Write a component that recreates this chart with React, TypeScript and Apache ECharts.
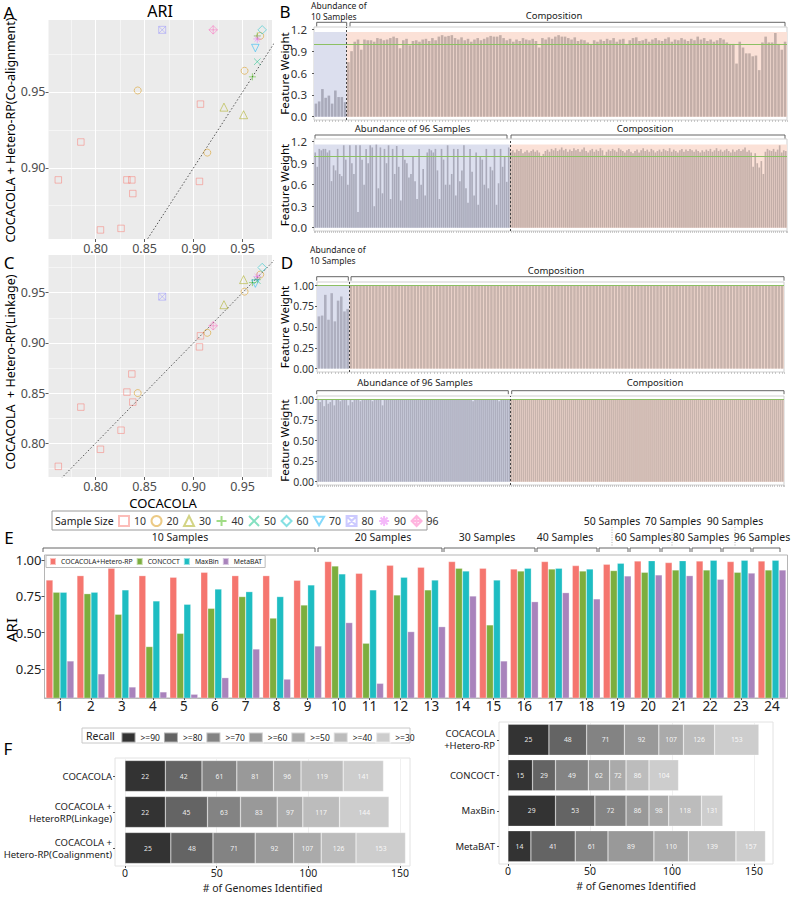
import React, { useEffect, useRef } from "react";
import * as echarts from "echarts";

const FONT = "'Noto Sans', 'DejaVu Sans', sans-serif";

// ---------------- Panels A & C : ARI scatter ----------------
const sampleSizes = ["10", "20", "30", "40", "50", "60", "70", "80", "90", "96"];
const sizeColors = ["#F8766D", "#D89000", "#A3A500", "#39B600", "#00BF7D", "#00BFC4", "#00B0F6", "#9590FF", "#E76BF3", "#FF62BC"];
const cocacolaARI = [
  [0.762, 0.785, 0.805, 0.826, 0.832, 0.837, 0.838, 0.907, 0.906],
  [0.843, 0.914, 0.952, 0.968],
  [0.931, 0.951],
  [0.960, 0.965],
  [0.965],
  [0.970],
  [0.963],
  [0.868],
  [0.965],
  [0.920],
];
const coalignmentARI = [
  [0.892, 0.917, 0.859, 0.860, 0.892, 0.892, 0.883, 0.942, 0.891],
  [0.951, 0.910, 0.964, 0.987],
  [0.940, 0.935],
  [0.960, 0.987],
  [0.970],
  [0.991],
  [0.979],
  [0.991],
  [0.985],
  [0.991],
];
const linkageARI = [
  [0.777, 0.836, 0.794, 0.813, 0.851, 0.869, 0.841, 0.907, 0.896],
  [0.850, 0.910, 0.951, 0.968],
  [0.938, 0.963],
  [0.960, 0.963],
  [0.962],
  [0.975],
  [0.959],
  [0.946],
  [0.966],
  [0.917],
];
const identityLine = [[0.7, 0.7], [1.0, 1.0]];

// ---------------- Panels B & D : feature weights ----------------
const bTopAbundance = [0.18, 0.21, 0.38, 0.26, 0.29, 0.18, 0.36, 0.27, 0.27, 0.20];
const bTopComposition = [
  0.75, 0.90, 1.03, 1.06, 0.92, 1.06, 1.05, 1.05,
  1.03, 1.08, 1.07, 1.05, 1.06, 1.08, 1.10, 1.08,
  0.94, 1.05, 1.07, 0.98, 1.04, 1.05, 1.03, 1.06,
  1.07, 1.04, 1.08, 1.05, 1.10, 1.12, 1.10, 1.11,
  1.12, 1.08, 1.06, 1.09, 1.05, 1.07, 1.03, 1.06,
  1.08, 1.05, 1.07, 1.09, 1.11, 1.10, 1.10, 1.12,
  1.08, 1.05, 1.07, 1.03, 1.06, 1.04, 1.08, 1.06,
  1.05, 1.07, 1.04, 0.95, 1.08, 1.06, 1.09, 1.07,
  1.10, 1.12, 1.10, 1.10, 1.08, 1.06, 1.09, 1.04,
  1.06, 1.05, 1.02, 1.00, 1.05, 1.03, 1.06, 1.04,
  1.07, 1.05, 1.08, 1.03, 1.06, 1.07, 1.00, 1.05,
  1.08, 1.09, 1.04, 1.05, 1.07, 1.03, 1.06, 1.08,
  1.05, 1.04, 1.07, 1.09, 1.03, 1.06, 1.05, 1.08,
  1.06, 1.04, 1.07, 1.05, 1.10, 1.06, 1.08, 1.04,
  1.06, 1.03, 1.05, 1.08, 1.06, 1.02, 1.00, 1.00,
  0.73, 1.03, 0.95, 0.87, 0.87, 0.83, 0.84, 0.64,
  1.02, 1.10, 1.02, 1.02, 1.15, 1.00, 0.92, 1.03,
];
const bBottomAbundance = [
  1.05, 0.85, 1.10, 1.08, 1.10, 1.10, 1.05, 1.08,
  0.65, 0.87, 0.80, 1.10, 0.75, 0.72, 1.15, 0.95,
  0.60, 1.15, 0.90, 0.75, 1.15, 0.22, 1.15, 0.95,
  0.60, 1.10, 0.90, 1.15, 1.12, 0.30, 1.16, 0.55,
  1.12, 0.48, 1.10, 0.90, 1.15, 0.40, 1.10, 0.75,
  1.14, 0.85, 0.38, 1.10, 0.95, 0.90, 0.70, 0.75,
  1.00, 0.65, 0.40, 1.10, 0.60, 0.82, 0.45, 1.05,
  1.10, 1.08, 1.05, 1.10, 0.80, 0.40, 1.10, 0.95,
  0.60, 1.15, 0.60, 0.75, 1.10, 0.45, 1.10, 0.65,
  0.80, 1.15, 0.55, 0.35, 1.10, 0.78, 0.45, 1.05,
  0.32, 1.00, 0.95, 0.60, 1.10, 0.55, 0.85, 0.80,
  1.10, 0.32, 0.62, 1.10, 0.85, 1.00, 0.64, 1.12,
];
const bBottomComposition = [
  1.06, 1.08, 1.05, 1.09, 1.07, 1.10, 1.04, 1.06,
  1.08, 1.05, 1.07, 1.09, 1.06, 1.08, 1.05, 1.00,
  1.03, 1.07, 1.09, 1.06, 1.10, 1.08, 1.11, 1.07,
  1.09, 1.12, 1.08, 1.10, 1.06, 1.09, 1.07, 1.11,
  1.08, 1.10, 1.06, 1.09, 1.12, 1.07, 1.05, 1.08,
  1.10, 1.06, 1.09, 1.07, 1.11, 1.08, 1.01, 1.06,
  1.09, 1.07, 1.10, 1.08, 1.06, 1.11, 1.09, 1.07,
  1.05, 1.08, 1.10, 1.06, 1.04, 1.07, 1.09, 1.05,
  1.08, 1.11, 1.07, 1.09, 1.06, 1.10, 1.08, 1.05,
  1.07, 1.09, 1.06, 1.10, 1.08, 1.07, 1.11, 1.06,
  1.09, 1.07, 1.05, 1.08, 1.10, 1.06, 1.09, 1.07,
  1.10, 1.08, 1.06, 1.09, 1.07, 1.05, 1.08, 1.06,
  1.09, 1.07, 1.10, 1.06, 1.08, 1.11, 1.07, 1.09,
  1.06, 1.08, 1.10, 1.07, 1.05, 1.09, 1.06, 1.08,
  1.10, 1.07, 1.09, 1.12, 1.06, 1.08, 1.05, 0.85,
  1.04, 0.90, 0.84, 0.93, 0.75, 1.06, 1.10, 1.08,
  1.07, 1.10, 1.06, 1.09, 1.15, 1.05, 1.08, 1.07,
];
const dTopAbundance = [0.63, 0.64, 0.89, 0.59, 0.91, 0.57, 0.82, 0.87, 0.69, 0.72];
const dTopComposition = [
  1, 1, 1, 1, 1, 1, 1, 1, 1, 1, 1, 1, 1, 1, 1, 1, 1, 1, 1, 1, 1, 1, 1, 1, 1, 1, 1, 1, 1, 1, 1, 1, 1, 1,
  1, 1, 1, 1, 1, 1, 1, 1, 1, 1, 1, 1, 1, 1, 1, 1, 1, 1, 1, 1, 1, 1, 1, 1, 1, 1, 1, 1, 1, 1, 1, 1, 1, 1,
  1, 1, 1, 1, 1, 1, 1, 1, 1, 1, 1, 1, 1, 1, 1, 1, 1, 1, 1, 1, 1, 1, 1, 1, 1, 1, 1, 1, 1, 1, 1, 1, 1, 1,
  1, 1, 1, 1, 1, 1, 1, 1, 1, 1, 1, 1, 1, 1, 1, 1, 1, 1, 1, 1, 1, 1, 1, 1, 1, 1, 1, 1, 1, 1, 1, 1, 1, 1,
];
const dBottomAbundance = [
  1.00, 0.97, 1.00, 0.92, 1.00, 0.95, 0.97, 1.00,
  0.93, 1.00, 1.00, 0.98, 1.00, 1.00, 1.00, 0.93,
  1.00, 0.97, 1.00, 1.00, 1.00, 0.98, 1.00, 1.00,
  1.00, 1.00, 1.00, 0.98, 1.00, 1.00, 1.00, 1.00,
  0.93, 1.00, 1.00, 1.00, 1.00, 1.00, 1.00, 1.00,
  1.00, 1.00, 1.00, 1.00, 1.00, 1.00, 1.00, 1.00,
  1.00, 1.00, 1.00, 1.00, 1.00, 1.00, 1.00, 1.00,
  1.00, 1.00, 1.00, 1.00, 1.00, 1.00, 1.00, 1.00,
  1.00, 1.00, 1.00, 1.00, 1.00, 1.00, 1.00, 1.00,
  1.00, 1.00, 1.00, 1.00, 1.00, 0.98, 1.00, 1.00,
  1.00, 1.00, 1.00, 1.00, 1.00, 1.00, 1.00, 1.00,
  1.00, 1.00, 0.98, 1.00, 1.00, 1.00, 1.00, 1.00,
];
const dBottomComposition = [
  1, 1, 1, 1, 1, 1, 1, 1, 1, 1, 1, 1, 1, 1, 1, 1, 1, 1, 1, 1, 1, 1, 1, 1, 1, 1, 1, 1, 1, 1, 1, 1, 1, 1,
  1, 1, 1, 1, 1, 1, 1, 1, 1, 1, 1, 1, 1, 1, 1, 1, 1, 1, 1, 1, 1, 1, 1, 1, 1, 1, 1, 1, 1, 1, 1, 1, 1, 1,
  1, 1, 1, 1, 1, 1, 1, 1, 1, 1, 1, 1, 1, 1, 1, 1, 1, 1, 1, 1, 1, 1, 1, 1, 1, 1, 1, 1, 1, 1, 1, 1, 1, 1,
  1, 1, 1, 1, 1, 1, 1, 1, 1, 1, 1, 1, 1, 1, 1, 1, 1, 1, 1, 1, 1, 1, 1, 1, 1, 1, 1, 1, 1, 1, 1, 1, 1, 1,
];

// ---------------- Panel E : ARI by dataset ----------------
const datasetLabels = ["1", "2", "3", "4", "5", "6", "7", "8", "9", "10", "11", "12", "13", "14", "15", "16", "17", "18", "19", "20", "21", "22", "23", "24"];
const methodNames = ["COCACOLA+Hetero-RP", "CONCOCT", "MaxBin", "MetaBAT"];
const methodColors = ["#F5766F", "#7CAE3E", "#1EBDC2", "#A983BC"];
const ariHeteroRP = [0.862, 0.892, 0.943, 0.892, 0.881, 0.915, 0.892, 0.892, 0.860, 0.989, 0.908, 0.963, 0.950, 0.989, 0.943, 0.938, 0.989, 0.961, 0.970, 0.993, 0.982, 0.993, 0.989, 0.993];
const ariConcoct = [0.778, 0.768, 0.626, 0.404, 0.495, 0.667, 0.748, 0.600, 0.690, 0.959, 0.427, 0.759, 0.794, 0.943, 0.553, 0.924, 0.938, 0.924, 0.927, 0.915, 0.931, 0.931, 0.915, 0.931];
const ariMaxbin = [0.778, 0.778, 0.794, 0.718, 0.695, 0.800, 0.782, 0.748, 0.828, 0.904, 0.794, 0.881, 0.862, 0.924, 0.862, 0.943, 0.943, 0.938, 0.977, 0.995, 0.995, 0.998, 0.998, 0.998];
const ariMetabat = [0.305, 0.216, 0.126, 0.092, 0.076, 0.190, 0.388, 0.180, 0.408, 0.569, 0.151, 0.507, 0.541, 0.752, 0.305, 0.713, 0.775, 0.732, 0.890, 0.897, 0.892, 0.867, 0.910, 0.931];
const groupLabels = ["10 Samples", "20 Samples", "30 Samples", "40 Samples", "50 Samples", "60 Samples", "70 Samples", "80 Samples", "90 Samples", "96 Samples"];

// ---------------- Panel F : genomes identified ----------------
const recallLevels = [">=90", ">=80", ">=70", ">=60", ">=50", ">=40", ">=30"];
const recallColors = ["#333333", "#646464", "#838383", "#999999", "#AAAAAA", "#BCBCBC", "#CDCDCD"];
const fLeftMethods = ["COCACOLA", "COCACOLA +\nHeteroRP(Linkage)", "COCACOLA +\nHetero-RP(Coalignment)"];
const fLeftCumulative = [
  [22, 42, 61, 81, 96, 119, 141],
  [22, 45, 63, 83, 97, 117, 144],
  [25, 48, 71, 92, 107, 126, 153],
];
const fRightMethods = ["COCACOLA\n+Hetero-RP", "CONCOCT", "MaxBin", "MetaBAT"];
const fRightCumulative = [
  [25, 48, 71, 92, 107, 126, 153],
  [15, 29, 49, 62, 72, 86, 104],
  [29, 53, 72, 86, 98, 118, 131],
  [14, 41, 61, 89, 110, 139, 157],
];

const SYMBOLS = [
  "rect",
  "circle",
  "triangle",
  "path://M5,0L5,10M0,5L10,5",
  "path://M0,0L10,10M10,0L0,10",
  "diamond",
  "path://M0,0L10,0L5,8.66Z",
  "path://M0,0L10,0L10,10L0,10ZM0,0L10,10M10,0L0,10",
  "path://M5,0L5,10M0,5L10,5M1.5,1.5L8.5,8.5M8.5,1.5L1.5,8.5",
  "path://M5,0L10,5L5,10L0,5ZM5,0L5,10M0,5L10,5",
];
const SYMBOL_SIZES = [6.5, 7, 8, 7, 6.5, 8.5, 7.5, 7, 8, 8.5];

function rgba(hex: string, a: number) {
  const n = parseInt(hex.slice(1), 16);
  return `rgba(${(n >> 16) & 255},${(n >> 8) & 255},${n & 255},${a})`;
}

function buildOption() {
  const grids: any[] = [];
  const xAxes: any[] = [];
  const yAxes: any[] = [];
  const series: any[] = [];
  const graphics: any[] = [];

  const txt = (x: number, y: number, text: string, size: number, opt: any = {}) => ({
    type: "text",
    x,
    y,
    rotation: opt.rotation || 0,
    silent: true,
    z: 10,
    style: {
      text,
      fontSize: size,
      fontFamily: FONT,
      fill: opt.color || "#1a1a1a",
      align: opt.align || "center",
      textAlign: opt.align || "center",
      verticalAlign: "middle",
      textVerticalAlign: "middle",
    },
  });
  const bracket = (x1: number, x2: number, y: number, t: number) => ({
    type: "polyline",
    silent: true,
    z: 10,
    shape: { points: [[x1, y + t], [x1, y], [x2, y], [x2, y + t]] },
    style: { stroke: "#555", lineWidth: 0.9, fill: "none" },
  });

  // ----- scatter panels -----
  const scatterPanel = (top: number, height: number, yMin: number, yMax: number, yVals: number[][]) => {
    const gi = grids.length;
    grids.push({ left: 48.5, top, width: 223.5, height, show: true, backgroundColor: "#EBEBEB", borderWidth: 0, outerBoundsMode: "none" });
    const xi = xAxes.length;
    xAxes.push({
      type: "value", gridIndex: gi, min: 0.752, max: 0.98, minInterval: 0.05, maxInterval: 0.05,
      axisLine: { show: false, onZero: false },
      axisTick: { show: true, length: 3, lineStyle: { color: "#333", width: 0.8 } },
      axisLabel: { fontSize: 12.5, color: "#4D4D4D", margin: 3, showMinLabel: false, showMaxLabel: false, formatter: (v: number) => v.toFixed(2) },
      splitLine: { show: true, showMinLine: false, showMaxLine: false, lineStyle: { color: "#FFFFFF", width: 1.1 } },
    });
    xAxes.push({
      type: "value", gridIndex: gi, position: "top", min: 0.752, max: 0.98, minInterval: 0.025, maxInterval: 0.025,
      axisLine: { show: false, onZero: false }, axisTick: { show: false }, axisLabel: { show: false },
      splitLine: { show: true, showMinLine: false, showMaxLine: false, lineStyle: { color: "#FFFFFF", width: 0.5 } },
    });
    const yi = yAxes.length;
    yAxes.push({
      type: "value", gridIndex: gi, min: yMin, max: yMax, minInterval: 0.05, maxInterval: 0.05,
      axisLine: { show: false, onZero: false },
      axisTick: { show: true, length: 3, lineStyle: { color: "#333", width: 0.8 } },
      axisLabel: { fontSize: 12.5, color: "#4D4D4D", margin: 3, showMinLabel: false, showMaxLabel: false, formatter: (v: number) => v.toFixed(2) },
      splitLine: { show: true, showMinLine: false, showMaxLine: false, lineStyle: { color: "#FFFFFF", width: 1.1 } },
    });
    yAxes.push({
      type: "value", gridIndex: gi, position: "right", min: yMin, max: yMax, minInterval: 0.025, maxInterval: 0.025,
      axisLine: { show: false, onZero: false }, axisTick: { show: false }, axisLabel: { show: false },
      splitLine: { show: true, showMinLine: false, showMaxLine: false, lineStyle: { color: "#FFFFFF", width: 0.5 } },
    });
    series.push({
      type: "line", xAxisIndex: xi, yAxisIndex: yi, data: identityLine, symbol: "none", silent: true, clip: true,
      lineStyle: { color: "#444", width: 0.9, type: [1.5, 2] }, z: 3,
    });
    sampleSizes.forEach((name, k) => {
      series.push({
        type: "scatter", name, xAxisIndex: xi, yAxisIndex: yi,
        data: cocacolaARI[k].map((x, i) => [x, yVals[k][i]]),
        symbol: SYMBOLS[k], symbolSize: SYMBOL_SIZES[k], silent: true, z: 4,
        itemStyle: { color: "rgba(0,0,0,0)", borderColor: rgba(sizeColors[k], 0.6), borderWidth: 1 },
      });
    });
  };
  scatterPanel(20, 219, 0.853, 0.9975, coalignmentARI);
  scatterPanel(255, 222, 0.7664, 0.9875, linkageARI);

  // ----- feature weight panels -----
  const weightPanel = (left: number, top: number, width: number, height: number, yMin: number, yMax: number, step: number, dec: number, labelSize: number, labelMargin: number, abund: number[], comp: number[], bandTop: number, abColor: string, compColor: string) => {
    const gi = grids.length;
    grids.push({ left, top, width, height, show: true, backgroundColor: "#FFFFFF", borderColor: "#CFCFCF", borderWidth: 1, outerBoundsMode: "none" });
    const n = abund.length + comp.length;
    const xi = xAxes.length;
    xAxes.push({
      type: "value", gridIndex: gi, min: 0.4, max: n + 0.6, minInterval: 1, maxInterval: 1,
      axisLine: { show: false, onZero: false }, axisLabel: { show: false }, splitLine: { show: false },
      axisTick: { show: true, length: 2, lineStyle: { color: "#AAAAAA", width: 0.6 } },
    });
    const yi = yAxes.length;
    yAxes.push({
      type: "value", gridIndex: gi, min: yMin, max: yMax, minInterval: step, maxInterval: step,
      axisLine: { show: false, onZero: false }, splitLine: { show: false },
      axisTick: { show: true, length: 2, lineStyle: { color: "#333", width: 0.8 } },
      axisLabel: { fontSize: labelSize, color: "#333", margin: labelMargin, showMinLabel: false, showMaxLabel: false, formatter: (v: number) => v.toFixed(dec) },
    });
    const unit = width / (n + 0.2);
    const data = abund
      .map((v, i) => ({ value: [i + 1, v], itemStyle: { color: abColor } }))
      .concat(comp.map((v, i) => ({ value: [abund.length + i + 1, v], itemStyle: { color: compColor } })));
    const sep = abund.length + 0.5;
    series.push({
      type: "bar", xAxisIndex: xi, yAxisIndex: yi, barWidth: unit * 0.8, data, silent: true,
      markArea: {
        silent: true,
        data: [
          [{ xAxis: 0.4, yAxis: 0, itemStyle: { color: "#DCDFEE" } }, { xAxis: sep, yAxis: bandTop }],
          [{ xAxis: sep, yAxis: 0, itemStyle: { color: "#FBE1D7" } }, { xAxis: n + 0.6, yAxis: bandTop }],
        ],
      },
      markLine: {
        silent: true, symbol: "none", label: { show: false },
        data: [
          { yAxis: 1, lineStyle: { color: "#8CC063", width: 1.1, type: "solid" } },
          { xAxis: sep, lineStyle: { color: "#444", width: 1, type: [2, 2] } },
        ],
      },
    });
  };
  weightPanel(314, 27, 473, 93, -0.045, 1.232, 0.3, 1, 11.5, 7, bTopAbundance, bTopComposition, 1.165, "#A9AABA", "#C3AEA8");
  weightPanel(314, 139, 473, 92, -0.046, 1.238, 0.3, 1, 11.5, 7, bBottomAbundance, bBottomComposition, 1.16, "#A9AABA", "#C3AEA8");
  weightPanel(317, 282, 467, 90, -0.041, 1.045, 0.25, 2, 10.5, 3, dTopAbundance, dTopComposition, 1.0, "#AEAFBF", "#C8B4AD");
  weightPanel(317, 396, 467, 89, -0.040, 1.044, 0.25, 2, 10.5, 3, dBottomAbundance, dBottomComposition, 1.0, "#AEAFBF", "#C8B4AD");

  // ----- panel E -----
  const ge = grids.length;
  grids.push({ left: 44.5, top: 555, width: 743, height: 143, show: true, backgroundColor: "#FFFFFF", borderColor: "#B5B5B5", borderWidth: 1, outerBoundsMode: "none" });
  const exi = xAxes.length;
  xAxes.push({
    type: "category", gridIndex: ge, data: datasetLabels,
    axisLine: { show: true, onZero: false, lineStyle: { color: "#B5B5B5" } },
    axisTick: { show: true, alignWithLabel: true, length: 2, lineStyle: { color: "#555" } },
    axisLabel: { fontSize: 13.5, color: "#222", margin: 1, interval: 0 },
  });
  const eyi = yAxes.length;
  yAxes.push({
    type: "value", gridIndex: ge, min: 0.05, max: 1.034, minInterval: 0.25, maxInterval: 0.25,
    axisLine: { show: false, onZero: false }, splitLine: { show: false },
    axisTick: { show: true, length: 3, lineStyle: { color: "#555" } },
    axisLabel: { fontSize: 13, color: "#222", margin: 3, showMinLabel: false, showMaxLabel: false, formatter: (v: number) => v.toFixed(2) },
  });
  [ariHeteroRP, ariConcoct, ariMaxbin, ariMetabat].forEach((vals, m) => {
    series.push({
      type: "bar", name: methodNames[m], xAxisIndex: exi, yAxisIndex: eyi, data: vals,
      barWidth: 7, barGap: "0%", silent: true,
      itemStyle: { color: methodColors[m], borderColor: "rgba(255,255,255,0.55)", borderWidth: 0.5 },
    });
  });

  // ----- panel F -----
  const fPanel = (left: number, top: number, width: number, height: number, xMax: number, methods: string[], cum: number[][], labelMargin: number, nameGap: number, xMargin: number, xFont: number) => {
    const gi = grids.length;
    grids.push({ left, top, width, height, show: true, backgroundColor: "#FFFFFF", borderColor: "#E2E2E2", borderWidth: 1, outerBoundsMode: "none" });
    const xi = xAxes.length;
    xAxes.push({
      type: "value", gridIndex: gi, min: -5.45, max: xMax, minInterval: 50, maxInterval: 50,
      axisLine: { show: false, onZero: false },
      axisTick: { show: true, length: 2, lineStyle: { color: "#555" } },
      axisLabel: { fontSize: xFont, color: "#222", margin: xMargin, showMinLabel: false, showMaxLabel: false },
      splitLine: { show: true, showMinLine: false, showMaxLine: false, lineStyle: { color: "#F0F0F0", width: 1 } },
      name: "# of Genomes Identified", nameLocation: "middle", nameGap,
      nameTextStyle: { fontSize: 10.5, color: "#222", fontFamily: FONT },
    });
    const yi = yAxes.length;
    yAxes.push({
      type: "category", gridIndex: gi, data: methods, inverse: true,
      axisLine: { show: false, onZero: false },
      axisTick: { show: true, alignWithLabel: true, length: 2, lineStyle: { color: "#555" } },
      axisLabel: { fontSize: 9.5, color: "#222", margin: labelMargin, lineHeight: 12, align: "right" },
      splitLine: { show: false },
    });
    recallLevels.forEach((name, j) => {
      series.push({
        type: "bar", name, stack: "recall" + gi, xAxisIndex: xi, yAxisIndex: yi, barWidth: 31, silent: true,
        data: cum.map((row) => row[j] - (j > 0 ? row[j - 1] : 0)),
        itemStyle: { color: recallColors[j], borderColor: "rgba(255,255,255,0.5)", borderWidth: 0.5 },
        label: {
          show: true, position: "inside", color: "rgba(255,255,255,0.9)", fontSize: 6.8, fontFamily: FONT,
          formatter: (p: any) => String(cum[p.dataIndex][j]),
        },
      });
    });
  };
  fPanel(115, 758, 295, 108, 155.45, fLeftMethods, fLeftCumulative, 3, 16, 1, 10.5);
  fPanel(499, 722, 274, 142, 161.6, fRightMethods, fRightCumulative, 4, 16, 1, 10.5);

  // ----- annotations -----
  graphics.push(txt(9, 12, "A", 17, { color: "#000" }));
  graphics.push(txt(285, 11.5, "B", 17, { color: "#000" }));
  graphics.push(txt(9, 262, "C", 17, { color: "#000" }));
  graphics.push(txt(287, 262, "D", 17, { color: "#000" }));
  graphics.push(txt(9, 537, "E", 17, { color: "#000" }));
  graphics.push(txt(8, 748, "F", 17, { color: "#000" }));
  graphics.push(txt(160, 11, "ARI", 16, { color: "#000" }));
  graphics.push(txt(10, 130, "COCACOLA + Hetero-RP(Co-alignment)", 12.5, { rotation: Math.PI / 2, color: "#000" }));
  graphics.push(txt(10, 372, "COCACOLA  + Hetero-RP(Linkage)", 12.5, { rotation: Math.PI / 2, color: "#000" }));
  graphics.push(txt(163, 503, "COCACOLA", 13, { color: "#000" }));
  [73.5, 185, 327, 440.5].forEach((y) => graphics.push(txt(284.5, y, "Feature Weight", 11.5, { rotation: Math.PI / 2, color: "#000" })));
  // B brackets
  graphics.push(txt(311, 5, "Abundance of", 8.5, { align: "left" }));
  graphics.push(txt(311, 16.3, "10 Samples", 8.5, { align: "left" }));
  graphics.push(bracket(316.7, 346.7, 22.3, 4));
  graphics.push(txt(554, 15.5, "Composition", 9.5));
  graphics.push(bracket(350, 785, 22.3, 4));
  graphics.push(txt(412.5, 128.3, "Abundance of 96 Samples", 9.5));
  graphics.push(bracket(315, 507, 135, 3.5));
  graphics.push(txt(645, 128.3, "Composition", 9.5));
  graphics.push(bracket(511, 785, 135, 3.5));
  // D brackets
  graphics.push(txt(310, 249.5, "Abundance of", 8.5, { align: "left" }));
  graphics.push(txt(310, 260.8, "10 Samples", 8.5, { align: "left" }));
  graphics.push(bracket(316.7, 348.3, 276.7, 4));
  graphics.push(txt(556, 270, "Composition", 9.5));
  graphics.push(bracket(351, 784, 276.7, 4));
  graphics.push(txt(415, 382.7, "Abundance of 96 Samples", 9.5));
  graphics.push(bracket(316.7, 508.3, 390.7, 3.5));
  graphics.push(txt(655, 382.7, "Composition", 9.5));
  graphics.push(bracket(511.7, 784, 390.7, 3.5));
  // Sample size legend frame
  graphics.push({ type: "rect", silent: true, z: 1, shape: { x: 52, y: 511, width: 375, height: 19 }, style: { fill: "#FFFFFF", stroke: "#9A9A9A", lineWidth: 1 } });
  graphics.push(txt(55, 520.5, "Sample Size", 10.5, { align: "left", color: "#222" }));
  // E group brackets
  const eRanges = [[43, 315], [318, 442], [444, 535], [537, 597], [599, 628], [630, 660], [662, 690], [692, 721], [723, 751], [753, 780]];
  const eLabelPos = [[180, 537], [383, 537], [487, 537], [565, 537], [612, 520.5], [643, 537], [673, 520.5], [701, 537], [735, 520.5], [762, 537]];
  eRanges.forEach((r) => graphics.push(bracket(r[0], r[1], 548, 4)));
  groupLabels.forEach((g, i) => graphics.push(txt(eLabelPos[i][0], eLabelPos[i][1], g, 10.5, { color: "#1a1a1a" })));
  [612, 672, 735].forEach((x) =>
    graphics.push({ type: "line", silent: true, z: 9, shape: { x1: x, y1: 527, x2: x, y2: 546 }, style: { stroke: "#999", lineWidth: 0.8, lineDash: [1, 1.5] } })
  );
  graphics.push(txt(11, 630, "ARI", 15, { rotation: Math.PI / 2, color: "#000" }));
  // F legend frame
  graphics.push({ type: "rect", silent: true, z: 1, shape: { x: 82, y: 728, width: 328, height: 15 }, style: { fill: "#FFFFFF", stroke: "#C8C8C8", lineWidth: 1 } });
  graphics.push(txt(86, 735.5, "Recall", 10.5, { align: "left", color: "#222" }));

  return {
    animation: false,
    backgroundColor: "#FFFFFF",
    textStyle: { fontFamily: FONT },
    grid: grids,
    xAxis: xAxes,
    yAxis: yAxes,
    series,
    graphic: { elements: graphics },
    legend: [
      {
        data: sampleSizes, left: 118, top: 515, itemWidth: 10, itemHeight: 10, itemGap: 4.5, padding: 0,
        selectedMode: false, textStyle: { fontSize: 10.5, color: "#333", fontFamily: FONT },
      },
      {
        data: methodNames, left: 46, top: 555.5, itemWidth: 6, itemHeight: 7, itemGap: 3, padding: [1.5, 3],
        icon: "rect", selectedMode: false, borderColor: "#BBBBBB", borderWidth: 1, backgroundColor: "#FFFFFF",
        textStyle: { fontSize: 6.8, color: "#222", fontFamily: FONT },
      },
      {
        data: recallLevels, left: 120.5, top: 731.5, itemWidth: 14, itemHeight: 10, itemGap: 3, padding: 0,
        icon: "rect", selectedMode: false, textStyle: { fontSize: 8.5, color: "#222", fontFamily: FONT },
      },
    ],
  };
}

export default function App() {
  const ref = useRef<HTMLDivElement>(null);
  useEffect(() => {
    if (!ref.current) return;
    const chart = echarts.init(ref.current, null, { renderer: "svg" });
    chart.setOption(buildOption() as any);
    return () => chart.dispose();
  }, []);
  return <div ref={ref} style={{ position: "absolute", left: 0, top: 0, width: 796, height: 897, background: "#fff" }} />;
}
